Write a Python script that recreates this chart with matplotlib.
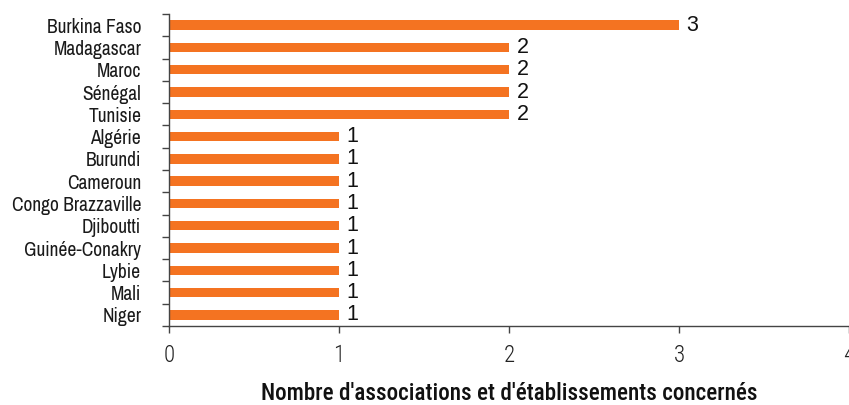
import matplotlib
matplotlib.use("Agg")
import matplotlib.pyplot as plt
from matplotlib.ticker import FixedLocator

countries = ["Burkina Faso", "Madagascar", "Maroc", "Sénégal", "Tunisie", "Algérie",
             "Burundi", "Cameroun", "Congo Brazzaville", "Djiboutti", "Guinée-Conakry",
             "Lybie", "Mali", "Niger"]
values = [3, 2, 2, 2, 2, 1, 1, 1, 1, 1, 1, 1, 1, 1]
xticks = [0, 1, 2, 3, 4]
xlabel = "Nombre d'associations et d'établissements concernés"

narrow = ["Archivo Narrow", "DejaVu Sans"]
light = ["Roboto Condensed", "Barlow Semi Condensed", "DejaVu Sans"]
regular = ["Liberation Sans", "Arimo", "DejaVu Sans"]
orange = "#F47321"

fig = plt.figure(figsize=(8.49, 4.05), dpi=100)
ax = fig.add_axes([169/849, 1-326/405, 1-169/849, (326-14)/405])

pos = list(range(len(countries)))
ax.barh(pos, values, height=0.42, color=orange)
ax.set_ylim(len(countries)-0.5, -0.5)
ax.set_xlim(0, 4)

for p, v in zip(pos, values):
    ax.text(v + 0.045, p, str(v), va="center", ha="left", fontsize=15.5,
            family=regular, color="#111111")

ax.set_yticks(pos)
ax.set_yticklabels(countries, family=narrow, fontsize=14, color="#1a1a1a")
ax.yaxis.set_minor_locator(FixedLocator([i - 0.5 for i in range(len(countries)+1)]))
ax.tick_params(axis="y", which="major", length=0, pad=20)
ax.tick_params(axis="y", which="minor", length=5, width=1, color="#444444")

ax.set_xticks(xticks)
ax.set_xticklabels([str(t) for t in xticks], family=light, fontsize=16.5,
                   fontweight="light", color="#222222")
ax.tick_params(axis="x", length=5, width=1, color="#444444", pad=8)

ax.set_xlabel(xlabel, family=light, fontsize=16.7, fontweight="medium", color="#111111", va="center")
ax.xaxis.set_label_coords(0.5, -(393 - 326) / 312)

for s in ["top", "right"]:
    ax.spines[s].set_visible(False)
for s in ["left", "bottom"]:
    ax.spines[s].set_color("#444444")
    ax.spines[s].set_linewidth(1)

fig.savefig("out.png", dpi=100)
